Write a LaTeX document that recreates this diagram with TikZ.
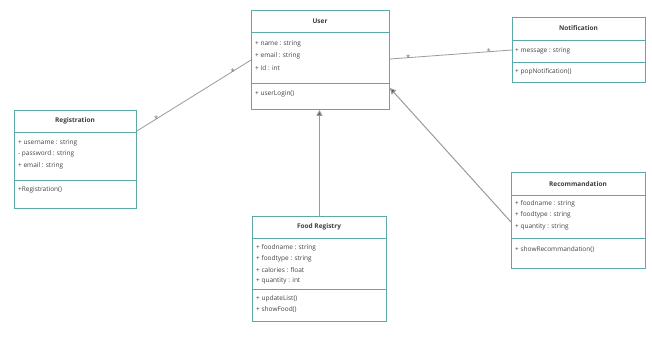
\documentclass[tikz,border=0pt]{standalone}
\usepackage{fontspec}
\setmainfont{Open Sans}
\usetikzlibrary{arrows.meta}
\definecolor{teal1}{HTML}{5BAAA8}
\definecolor{line1}{HTML}{9A9A9A}
\definecolor{arr}{HTML}{555555}
\definecolor{txt}{HTML}{444444}
\tikzset{
 cls/.style={draw=teal1, line width=0.9pt, fill=white, inner sep=0pt, anchor=north west},
 div/.style={draw=teal1, line width=0.7pt},
 ttl/.style={font=\fontsize{6.5}{7}\selectfont\bfseries, anchor=center, inner sep=0pt, text=txt!90!black},
 itm/.style={font=\fontsize{6.5}{7}\selectfont, anchor=west, inner sep=0pt, text=txt},
 assoc/.style={draw=line1, line width=0.8pt},
 gen/.style={draw=line1, line width=1pt, -{Triangle[length=6pt,width=6pt,fill=arr]}},
 mult/.style={font=\fontsize{7.5}{7.5}\selectfont, text=line1!70!black, inner sep=0.5pt},
}
\begin{document}
\begin{tikzpicture}[x=1pt,y=-1pt]
\useasboundingbox (0,0) rectangle (652,338);
% ---------- User
\node[cls, minimum width=138pt, minimum height=99pt] (user) at (251,10) {};
\draw[div] (251,32) -- (389,32);
\draw[div] (251,83) -- (389,83);
\node[ttl] (usert) at (320,21) {User};
\node[itm] (usera1) at (255,44) {+ name : string};
\node[itm] (usera2) at (255,56) {+ email : string};
\node[itm] (usera3) at (255,68) {+ Id : int};
\node[itm] (userm1) at (255,94) {+ userLogin()};
% ---------- Notification
\node[cls, minimum width=133pt, minimum height=65pt] (notif) at (512,17) {};
\draw[div] (512,40) -- (645,40);
\draw[div] (512,62) -- (645,62);
\node[ttl] (notift) at (578.5,28.5) {Notification};
\node[itm] (notifa1) at (515,51) {+ message : string};
\node[itm] (notifm1) at (515,72) {+ popNotification()};
% ---------- Registration
\node[cls, minimum width=122pt, minimum height=98pt] (reg) at (14,110) {};
\draw[div] (14,132) -- (136,132);
\draw[div] (14,180) -- (136,180);
\node[ttl] (regt) at (75,121) {Registration};
\node[itm] (rega1) at (18,143) {+ username : string};
\node[itm] (rega2) at (18,154) {- password : string};
\node[itm] (rega3) at (18,166) {+ email : string};
\node[itm] (regm1) at (18,190) {+Registration()};
% ---------- Food Registry
\node[cls, minimum width=134pt, minimum height=105pt] (food) at (252,216) {};
\draw[div] (252,238) -- (386,238);
\draw[div] (252,289) -- (386,289);
\node[ttl] (foodt) at (319,227) {Food Registry};
\node[itm] (fooda1) at (256,248) {+ foodname : string};
\node[itm] (fooda2) at (256,259) {+ foodtype : string};
\node[itm] (fooda3) at (256,270) {+ calories : float};
\node[itm] (fooda4) at (256,281) {+ quantity : int};
\node[itm] (foodm1) at (256,299) {+ updateList()};
\node[itm] (foodm2) at (256,310) {+ showFood()};
% ---------- Recommandation
\node[cls, minimum width=134pt, minimum height=96pt] (rec) at (511,172) {};
\draw[div] (511,195) -- (645,195);
\draw[div] (511,238) -- (645,238);
\node[ttl] (rect) at (578,184) {Recommandation};
\node[itm] (reca1) at (515,204) {+ foodname : string};
\node[itm] (reca2) at (515,215) {+ foodtype : string};
\node[itm] (reca3) at (515,227) {+ quantity : string};
\node[itm] (recm1) at (515,250) {+ showRecommandation()};
% ---------- connectors
\draw[assoc] ([yshift=-21pt]reg.north east) -- node[mult, pos=0.17]{*} node[mult, pos=0.84]{*} ([yshift=-50pt]user.north west);
\draw[assoc] ([yshift=-49pt]user.north east) -- node[mult, pos=0.15]{*} node[mult, pos=0.81]{*} ([yshift=-33pt]notif.north west);
\draw[gen] (food.north) -- (food.north |- user.south);
\draw[gen] ([yshift=-50pt]rec.north west) -- ([yshift=-78pt]user.north east);
\end{tikzpicture}
\end{document}
